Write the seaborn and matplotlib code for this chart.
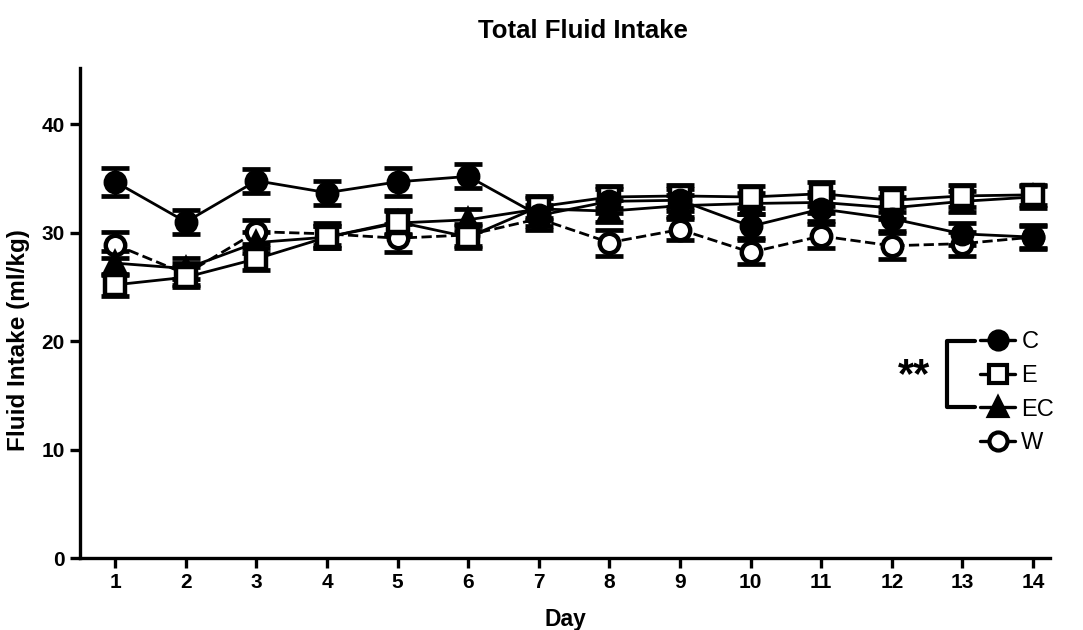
import matplotlib
matplotlib.use("Agg")
import matplotlib.pyplot as plt
import seaborn as sns
import pandas as pd
from matplotlib.lines import Line2D

days = list(range(1, 15))
C = [34.7, 31.0, 34.8, 33.7, 34.7, 35.2, 31.6, 32.9, 33.0, 30.6, 32.2, 31.3, 29.9, 29.6]
E = [25.2, 25.9, 27.6, 29.6, 31.0, 29.6, 32.4, 33.3, 33.4, 33.3, 33.6, 33.0, 33.4, 33.5]
EC = [27.2, 26.7, 29.1, 29.6, 30.9, 31.2, 32.2, 32.0, 32.5, 32.7, 32.8, 32.3, 32.9, 33.3]
W = [28.9, 26.2, 30.1, 29.9, 29.5, 29.8, 31.3, 29.1, 30.3, 28.2, 29.7, 28.8, 29.0, 29.6]
C_sem = [1.3, 1.1, 1.1, 1.1, 1.3, 1.1, 1.0, 1.1, 1.0, 1.1, 1.1, 1.1, 1.0, 1.0]
E_sem = [1.0, 0.9, 1.0, 1.0, 1.1, 1.0, 1.0, 1.0, 1.0, 1.0, 1.1, 1.1, 1.0, 0.9]
EC_sem = [1.1, 1.0, 1.0, 1.0, 1.1, 1.0, 1.0, 1.0, 1.0, 1.0, 1.0, 1.0, 1.0, 1.0]
W_sem = [1.2, 1.0, 1.1, 1.0, 1.3, 1.0, 1.0, 1.2, 1.0, 1.1, 1.1, 1.2, 1.1, 1.1]
groups = ["C", "E", "EC", "W"]

sns.set_style("ticks", {"text.color": "black", "axes.labelcolor": "black",
                        "xtick.color": "black", "ytick.color": "black",
                        "axes.edgecolor": "black"})
plt.rcParams["font.family"] = ["Liberation Sans", "DejaVu Sans"]

fig = plt.figure(figsize=(10.83, 6.30), dpi=100)
ax = fig.add_axes([80 / 1083, (630 - 558) / 630, (1050 - 80) / 1083, (558 - 68) / 630])

series = {"C": (C, C_sem), "E": (E, E_sem), "EC": (EC, EC_sem), "W": (W, W_sem)}
styles = {
    "C": dict(marker="o", mfc="black", ls="-", ms=14),
    "E": dict(marker="s", mfc="white", ls="-", ms=14),
    "EC": dict(marker="^", mfc="black", ls="-", ms=14),
    "W": dict(marker="o", mfc="white", ls="--", ms=14),
}
order = ["W", "EC", "E", "C"]
for g in order:
    vals, sem = series[g]
    st = styles[g]
    df = pd.DataFrame({"Day": days, "val": vals})
    ax.errorbar(days, vals, yerr=sem, fmt="none", ecolor="black",
                elinewidth=2.4, capsize=10, capthick=3.4, zorder=2)
    sns.lineplot(data=df, x="Day", y="val", ax=ax, color="black",
                 linestyle=st["ls"], linewidth=2.0, marker=st["marker"],
                 markersize=st["ms"], markerfacecolor=st["mfc"],
                 markeredgecolor="black", markeredgewidth=3.2, zorder=3)

ax.set_xlim(0.5, 14.24)
ax.set_ylim(0, 45.2)
ax.set_xticks(days)
ax.set_yticks([0, 10, 20, 30, 40])
for s in ["top", "right"]:
    ax.spines[s].set_visible(False)
for s in ["left", "bottom"]:
    ax.spines[s].set_linewidth(2.4)
ax.tick_params(axis="both", width=2.4, length=7, labelsize=15, pad=4)
for lab in ax.get_xticklabels() + ax.get_yticklabels():
    lab.set_fontweight("bold")
ax.set_xlabel("Day", fontsize=16.5, fontweight="bold")
ax.set_ylabel("Fluid Intake (ml/kg)", fontsize=17.5, fontweight="bold")
ax.xaxis.set_label_coords((565 - 80) / 970, -(608 - 558) / 490)
ax.yaxis.set_label_coords(-(80 - 30) / 970, (558 - 340) / 490)
fig.text(583 / 1083, 1 - 31 / 630, "Total Fluid Intake", ha="center", va="center",
         fontsize=18.5, fontweight="bold")

handles = []
for g in groups:
    st = styles[g]
    handles.append(Line2D([0], [0], color="black", linestyle="-", linewidth=2.4,
                          marker=st["marker"], markersize=13, markerfacecolor=st["mfc"],
                          markeredgecolor="black", markeredgewidth=3))
leg = ax.legend(handles, groups, loc="upper left",
                bbox_to_anchor=(980 / 1083, 1 - 331 / 630), bbox_transform=fig.transFigure,
                frameon=False, fontsize=17, handlelength=1.5, handletextpad=0.25,
                labelspacing=0.5, borderpad=0, borderaxespad=0)

# significance bracket
bx0, bx1 = 947 / 1083, 975 / 1083
by0, by1 = 1 - 341 / 630, 1 - 407 / 630
fig.add_artist(Line2D([bx1, bx0, bx0, bx1], [by0, by0, by1, by1],
                      transform=fig.transFigure, color="black", linewidth=3))
fig.text(914 / 1083, 1 - 376 / 630, "**", ha="center", va="center",
         fontsize=30, fontweight="bold")

fig.savefig("out.png", dpi=100)
